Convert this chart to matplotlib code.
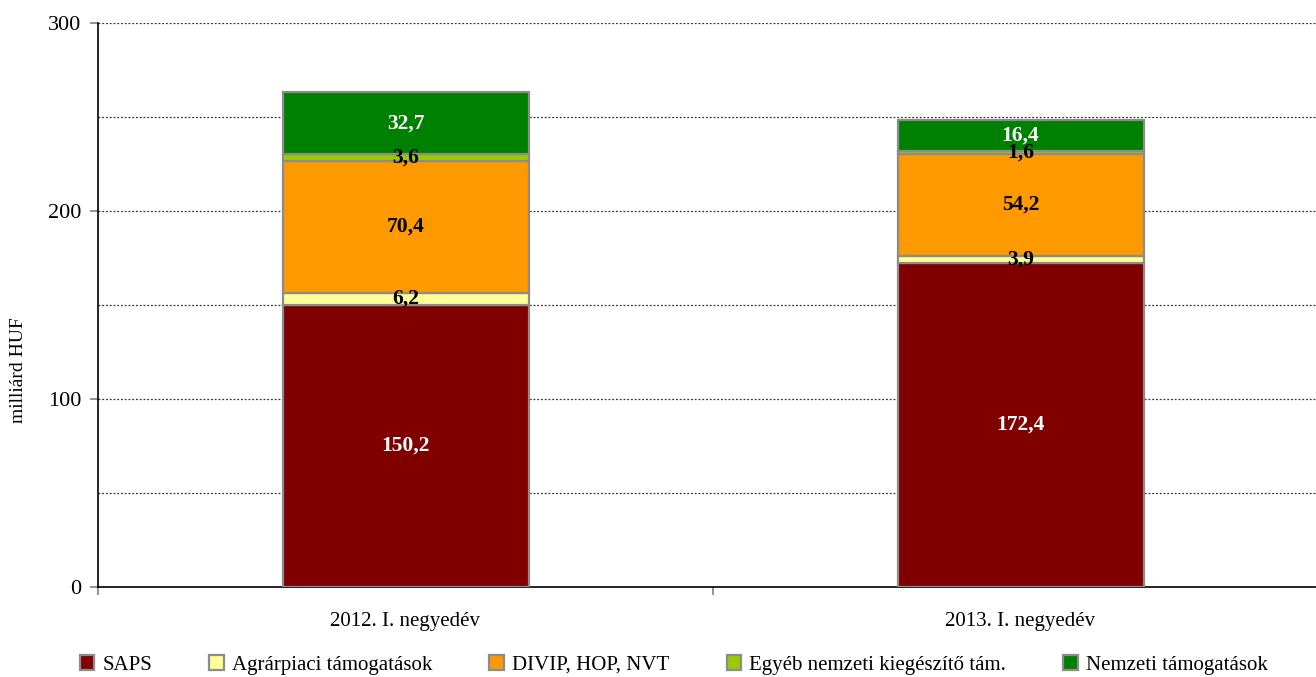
import matplotlib
matplotlib.use("Agg")
import matplotlib.pyplot as plt
from matplotlib.ticker import FixedLocator

categories = ["2012. I. negyedév", "2013. I. negyedév"]
series_names = ["SAPS", "Agrárpiaci támogatások", "DIVIP, HOP, NVT",
                "Egyéb nemzeti kiegészítő tám.", "Nemzeti támogatások"]
saps = [150.2, 172.4]
agrarpiaci = [6.2, 3.9]
divip = [70.4, 54.2]
egyeb = [3.6, 1.6]
nemzeti = [32.7, 16.4]
series_values = [saps, agrarpiaci, divip, egyeb, nemzeti]
colors = ["#800000", "#FFFF99", "#FF9900", "#99CC00", "#008000"]
label_colors = ["white", "black", "black", "black", "white"]
y_label = "milliárd HUF"

plt.rcParams['font.family'] = ['Liberation Serif', 'DejaVu Serif']

fig = plt.figure(figsize=(13.16, 6.77), dpi=100)
ax = fig.add_axes([98/1316, 90/677, (1328-98)/1316, 564/677])

x = list(range(len(categories)))
bottoms = [0.0] * len(categories)
handles = []
for name, vals, col, lc in zip(series_names, series_values, colors, label_colors):
    bars = ax.bar(x, vals, width=0.40, bottom=bottoms, color=col,
                  edgecolor="#8c8c8c", linewidth=1.6, label=name, zorder=3)
    handles.append(bars)
    for xi, v, b in zip(x, vals, bottoms):
        ax.text(xi, b + v / 2, f"{v:.1f}".replace(".", ","), ha="center",
                va="center", fontsize=15.5, fontweight="bold", color=lc, zorder=4)
    bottoms = [b + v for b, v in zip(bottoms, vals)]

ax.set_xlim(-0.5, 1.5)
ax.set_ylim(0, 300)
ax.set_yticks([0, 100, 200, 300])
ax.yaxis.set_minor_locator(FixedLocator([50, 150, 250]))
ax.tick_params(axis="y", which="major", length=6, width=1.2, color="#808080",
               labelsize=16, pad=6)
ax.tick_params(axis="y", which="minor", length=0)
ax.grid(axis="y", which="both", linestyle=(0, (1.5, 1.5)), color="#333333",
        linewidth=0.9, zorder=0)

ax.set_xticks(x)
ax.set_xticklabels(categories, fontsize=15)
ax.tick_params(axis="x", which="major", length=0, pad=18)
ax.xaxis.set_minor_locator(FixedLocator([-0.5, 0.5, 1.5]))
ax.tick_params(axis="x", which="minor", length=6, width=1.2, color="#808080")

for s in ["top", "right"]:
    ax.spines[s].set_visible(False)
ax.spines["left"].set_color("black")
ax.spines["bottom"].set_color("black")
ax.spines["left"].set_linewidth(1.2)
ax.spines["bottom"].set_linewidth(1.2)

ax.set_ylabel(y_label, fontsize=14)
ax.yaxis.set_label_coords((27 - 98) / 1230, (587 - 370) / 564)

leg = fig.legend(handles=handles, labels=series_names, loc="center left",
                 bbox_to_anchor=(61/1316, 1 - 665/677), ncol=5, frameon=False,
                 fontsize=15, handlelength=0.7, handleheight=0.7,
                 handletextpad=0.4, columnspacing=2.73)

fig.savefig("out.png", dpi=100)
